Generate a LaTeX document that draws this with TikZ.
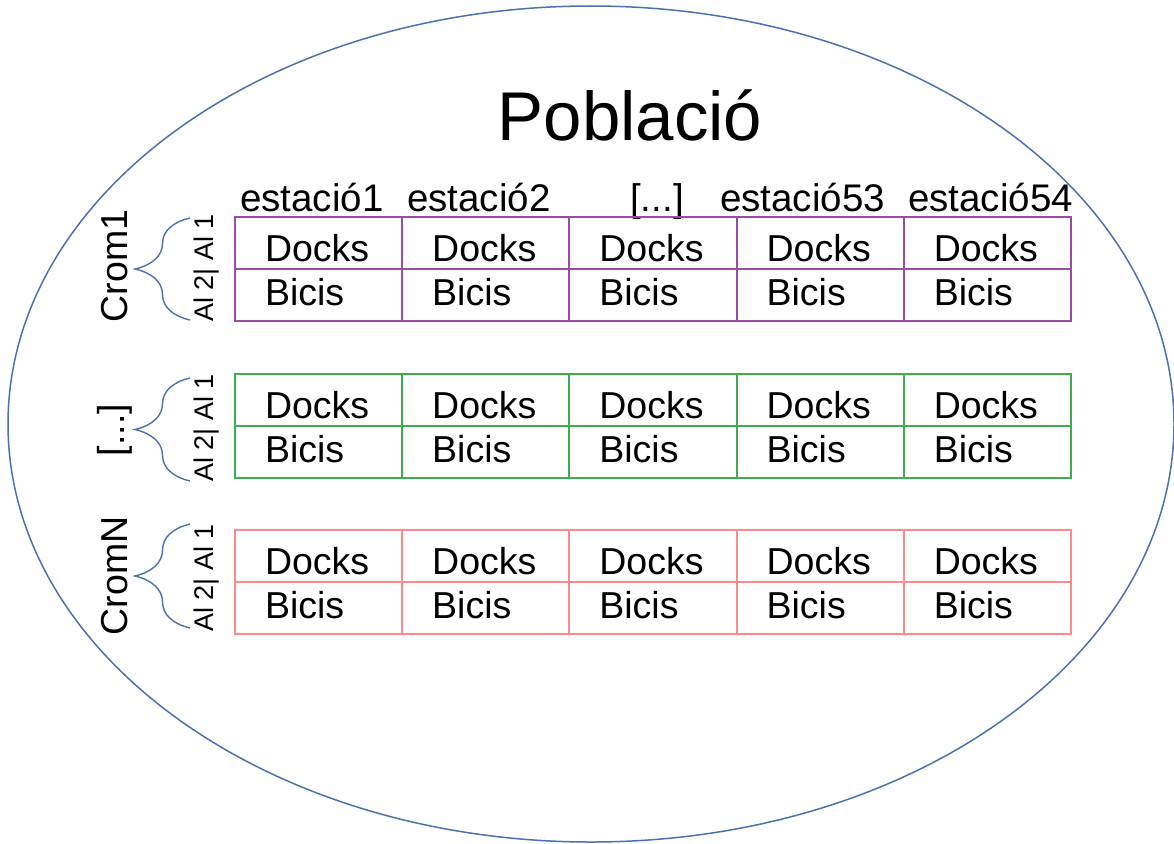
\documentclass[tikz,border=0pt]{standalone}
\usepackage{fontspec}
\setmainfont{Liberation Sans}
\usetikzlibrary{decorations.pathreplacing}
\definecolor{pobblue}{HTML}{4A72B0}
\definecolor{crompurple}{HTML}{9B4AA6}
\definecolor{cromgreen}{HTML}{3DAE4E}
\definecolor{cromred}{HTML}{FF8A8A}

\begin{document}
\begin{tikzpicture}[x=1pt,y=-1pt,
  cell/.style={line width=1.8pt,minimum width=167pt,minimum height=52pt,text width=107pt,inner xsep=30pt,inner ysep=0pt,align=left,outer sep=0pt,font=\fontsize{37.5}{40}\selectfont},
  docks/.style={cell,text height=36pt,text depth=0pt},
  bicis/.style={cell,text height=26pt,text depth=6pt},
  head/.style={anchor=base west,inner sep=0pt,font=\fontsize{38.5}{40}\selectfont},
  crom/.style={rotate=90,inner sep=0pt,font=\fontsize{37.5}{40}\selectfont},
  allel/.style={rotate=90,inner sep=0pt,font=\fontsize{27}{30}\selectfont},
  brace/.style={decorate,decoration={brace,amplitude=55pt},draw=pobblue,line width=1.4pt}
]
\useasboundingbox (0,0) rectangle (1174,843);
\draw[pobblue,line width=1.5pt] (591,424) ellipse [x radius=583, y radius=418];
\node[inner sep=0pt,font=\fontsize{69}{72}\selectfont] (title) at (630,115) {Població};

% estacions
\node[head] (e1) at (240,211) {estació1};
\node[head] (e2) at (407,211) {estació2};
\node[head] (e3) at (630,211) {[...]};
\node[head] (e53) at (720,211) {estació53};
\node[head] (e54) at (908,211) {estació54};

% cromosomes
\foreach \r/\y/\col in {a/217/crompurple,b/374/cromgreen,c/530/cromred}
  \foreach \i in {1,...,5}{
    \node[docks,draw=\col,anchor=north west] (\r d\i) at ({235+167.2*(\i-1)},\y) {Docks};
    \node[bicis,draw=\col,anchor=north west] (\r b\i) at (\r d\i.south west) {Bicis};
  }

\node[crom] (crom1) at (115,266) {Crom1};
\node[crom] (cromx) at (115,430) {[...]};
\node[crom] (cromn) at (115,576) {CromN};

\node[allel] (al1) at (207,268) {Al 2| Al 1};
\node[allel] (al2) at (207,428) {Al 2| Al 1};
\node[allel] (al3) at (207,578) {Al 2| Al 1};

\coordinate (ta) at (190,218); \coordinate (ba) at (190,320);
\coordinate (tb) at (190,378); \coordinate (bb) at (190,481);
\coordinate (tc) at (190,524); \coordinate (bc) at (190,628);
\draw[brace] (ba) -- (ta);
\draw[brace] (bb) -- (tb);
\draw[brace] (bc) -- (tc);
\end{tikzpicture}
\end{document}
